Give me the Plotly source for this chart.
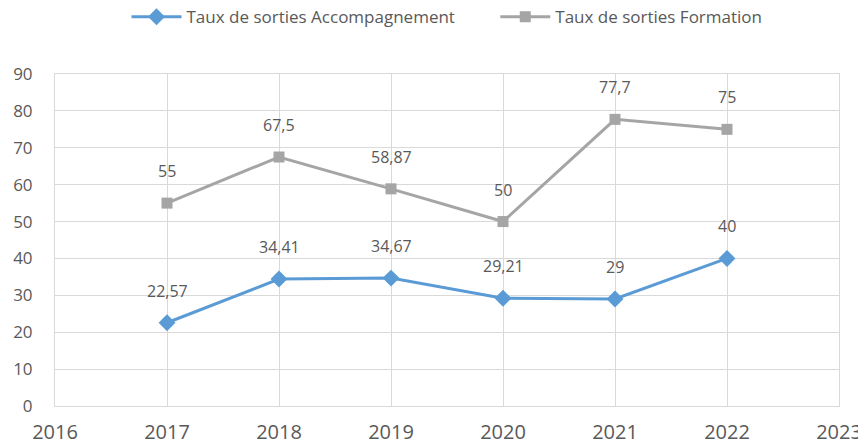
import plotly.graph_objects as go

years = [2017, 2018, 2019, 2020, 2021, 2022]
accompagnement = [22.57, 34.41, 34.67, 29.21, 29, 40]
formation = [55, 67.5, 58.87, 50, 77.7, 75]
x_ticks = [2016, 2017, 2018, 2019, 2020, 2021, 2022, 2023]
y_ticks = [0, 10, 20, 30, 40, 50, 60, 70, 80, 90]

BLUE = '#5B9BD5'
GREY = '#A5A5A5'
TEXT = '#595959'
GRID = '#D9D9D9'
FONT = 'Open Sans'


def fr(v):
    # french decimal separator
    return ('%g' % v).replace('.', ',')


fig = go.Figure()

fig.add_trace(go.Scatter(
    x=years, y=accompagnement,
    # trailing nbsp widens the gap between the two legend entries
    name='Taux de sorties Accompagnement' + '\u00a0' * 8,
    mode='lines+markers',
    line=dict(color=BLUE, width=3),
    marker=dict(symbol='diamond', size=13, color=BLUE)))

fig.add_trace(go.Scatter(
    x=years, y=formation,
    name='Taux de sorties Formation',
    mode='lines+markers',
    line=dict(color=GREY, width=3),
    marker=dict(symbol='square', size=11, color=GREY)))

annotations = []
for series in (accompagnement, formation):
    for x, y in zip(years, series):
        annotations.append(dict(
            x=x, y=y, text=fr(y), showarrow=False,
            yshift=32, font=dict(family=FONT, size=16, color=TEXT)))

# page body has an 8px margin, so the figure is a bit smaller than the window
fig.update_layout(
    width=858, height=437,
    margin=dict(l=47, r=27, t=66, b=39, autoexpand=False),
    paper_bgcolor='white', plot_bgcolor='white',
    font=dict(family=FONT, color=TEXT),
    showlegend=True,
    legend=dict(orientation='h', x=0.5, xanchor='center',
                y=0.979, yanchor='middle', yref='container',
                font=dict(family=FONT, size=17, color=TEXT),
                itemwidth=50, entrywidth=0),
    annotations=annotations,
    xaxis=dict(range=[2016, 2023], tickvals=x_ticks,
               showgrid=True, gridcolor=GRID, gridwidth=1,
               showline=True, linecolor=GRID, mirror=True,
               zeroline=False, ticks='', automargin=False,
               ticklabelstandoff=8,
               tickfont=dict(family=FONT, size=20, color=TEXT)),
    yaxis=dict(range=[0, 90], tickvals=y_ticks,
               showgrid=True, gridcolor=GRID, gridwidth=1,
               showline=True, linecolor=GRID, mirror=True,
               zeroline=False, ticks='', automargin=False,
               ticklabelstandoff=18,
               tickfont=dict(family=FONT, size=17, color=TEXT)),
)

fig.write_html('out.html')
